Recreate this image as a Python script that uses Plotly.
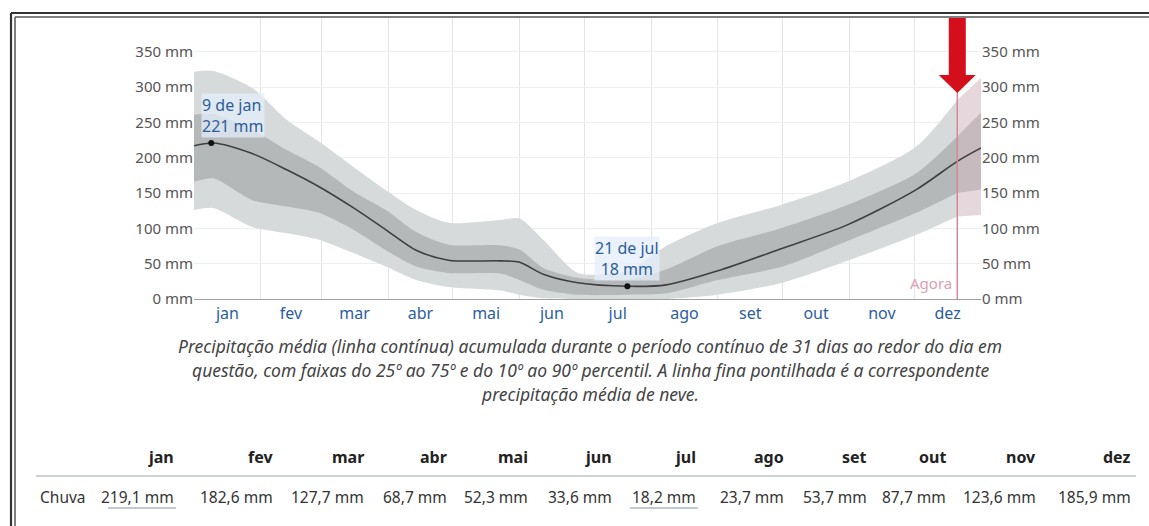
import plotly.graph_objects as go

# ---------------- data ----------------
MONTHS = ["jan", "fev", "mar", "abr", "mai", "jun", "jul", "ago", "set", "out", "nov", "dez"]
MONTH_DAYS = [31, 28, 31, 30, 31, 30, 31, 31, 30, 31, 30, 31]

# day of year (0 = 1 jan) at which values were read
DAYS = [0, 9, 27, 43, 58, 74, 89, 103, 118, 142, 151, 162, 178, 201, 219, 243, 273, 303, 335, 354, 365]
MEAN = [217, 221, 206, 183, 159, 129, 98, 69, 55, 54, 52, 35, 23, 18, 20, 40, 72, 105, 155, 195, 214]
P90 = [322, 323, 299, 254, 223, 187, 154, 126, 108, 112, 114, 84, 37, 40, 75, 108, 134, 166, 216, 282, 313]
P75 = [261, 262, 240, 211, 187, 152, 126, 95, 77, 76, 70, 44, 30, 27, 42, 75, 101, 133, 178, 230, 264]
P25 = [166, 171, 140, 131, 122, 98, 69, 46, 37, 36, 27, 13, 6, 6, 8, 27, 46, 82, 122, 150, 155]
P10 = [126, 129, 102, 93, 84, 65, 46, 27, 17, 12, 6, 1, 0, 0, 0, 6, 23, 54, 91, 117, 119]

MONTHLY_RAIN = ["219,1 mm", "182,6 mm", "127,7 mm", "68,7 mm", "52,3 mm", "33,6 mm",
                "18,2 mm", "23,7 mm", "53,7 mm", "87,7 mm", "123,6 mm", "185,9 mm"]

PEAK_DAY, PEAK_VAL, PEAK_LABEL = 8, 221, "9 de jan"
LOW_DAY, LOW_VAL, LOW_LABEL = 201, 18, "21 de jul"
AGORA_DAY = 354
Y_TICKS = [0, 50, 100, 150, 200, 250, 300, 350]
Y_TICKTEXT = [f"{v} mm" for v in Y_TICKS]

# ---------------- layout constants ----------------
W, H = 1149, 526
L, R, T, B = 194, 981, 18, 299
PW, PH = R - L, B - T
Y_TOP = 398

month_starts = [sum(MONTH_DAYS[:i]) for i in range(12)]
month_mids = [s + d / 2 for s, d in zip(month_starts, MONTH_DAYS)]

LIGHT = "#d7dadb"
DARK = "#b4b8b9"
LIGHT_T = "#e6d7dd"
DARK_T = "#c7babf"
BLUE = "#2c5e9e"

fig = go.Figure()

split = DAYS.index(AGORA_DAY)


def band(xs, lo, hi, color):
    fig.add_trace(go.Scatter(x=xs, y=lo, mode="lines", line=dict(width=0, shape="spline", smoothing=0.7),
                             hoverinfo="skip", showlegend=False))
    fig.add_trace(go.Scatter(x=xs, y=hi, mode="lines", fill="tonexty", fillcolor=color,
                             line=dict(width=0, shape="spline", smoothing=0.7),
                             hoverinfo="skip", showlegend=False))


a = slice(0, split + 1)
b = slice(split, len(DAYS))
band(DAYS[a], P10[a], P90[a], LIGHT)
band(DAYS[b], P10[b], P90[b], LIGHT_T)
band(DAYS[a], P25[a], P75[a], DARK)
band(DAYS[b], P25[b], P75[b], DARK_T)

fig.add_trace(go.Scatter(x=DAYS, y=MEAN, mode="lines",
                         line=dict(color="#3d3f40", width=1.6, shape="spline", smoothing=0.8),
                         showlegend=False))
fig.add_trace(go.Scatter(x=[PEAK_DAY, LOW_DAY], y=[PEAK_VAL, LOW_VAL], mode="markers",
                         marker=dict(color="#111", size=6), showlegend=False))
# invisible trace for right axis
fig.add_trace(go.Scatter(x=[0], y=[0], yaxis="y2", mode="markers", marker=dict(opacity=0),
                         showlegend=False, hoverinfo="skip"))

FONT = "Noto Sans"

fig.update_layout(
    width=W, height=H,
    margin=dict(l=L, r=W - R, t=T, b=H - B),
    paper_bgcolor="white", plot_bgcolor="white",
    font=dict(family=FONT, color="#555"),
    xaxis=dict(range=[0, 365], tickmode="array", tickvals=month_mids, ticktext=MONTHS, showgrid=False,
               tickfont=dict(size=16, color=BLUE), ticks="", zeroline=False,
               showline=True, linecolor="#a0a0a0", linewidth=1,
               minor=dict(tickvals=month_starts, showgrid=True, gridcolor="#e2e4e6", gridwidth=1, ticks="")),
    yaxis=dict(range=[0, Y_TOP], tickmode="array", tickvals=Y_TICKS, ticktext=Y_TICKTEXT, showgrid=True,
               gridcolor="#eeeeee", zeroline=False, tickfont=dict(size=15, color="#555"), ticks=""),
    yaxis2=dict(range=[0, Y_TOP], tickmode="array", tickvals=Y_TICKS, ticktext=Y_TICKTEXT, overlaying="y",
                side="right", showgrid=False, zeroline=False, tickfont=dict(size=15, color="#555"), ticks=""),
)

shapes = []
annotations = []


def px(xp, yp):
    return (xp - L) / PW, (B - yp) / PH


# Agora line
shapes.append(dict(type="line", xref="x", yref="y", x0=AGORA_DAY, x1=AGORA_DAY, y0=0, y1=293,
                   line=dict(color="#d58699", width=1.5)))
# red arrow (pixel sized around Agora day)
shapes.append(dict(type="path", xref="x", yref="y", xsizemode="pixel", ysizemode="pixel",
                   xanchor=AGORA_DAY, yanchor=Y_TOP,
                   path="M -8.5,0 L 8.5,0 L 8.5,-57 L 18.5,-57 L 0,-75 L -18.5,-57 L -8.5,-57 Z",
                   fillcolor="#d40f1b", line=dict(width=0)))

annotations.append(dict(x=AGORA_DAY, y=0, xref="x", yref="y", text="Agora", showarrow=False,
                        xanchor="right", yanchor="bottom", xshift=-3, yshift=4,
                        font=dict(size=15, color="#dca0b2", family=FONT)))

annotations.append(dict(x=PEAK_DAY, y=PEAK_VAL, xref="x", yref="y",
                        text=f"{PEAK_LABEL}<br>{PEAK_VAL} mm", showarrow=False, align="left",
                        xanchor="left", yanchor="bottom", xshift=-10, yshift=5,
                        bgcolor="rgba(228,238,250,0.75)", borderpad=0,
                        font=dict(size=16, color=BLUE, family=FONT)))
annotations.append(dict(x=LOW_DAY, y=LOW_VAL, xref="x", yref="y",
                        text=f"{LOW_LABEL}<br>{LOW_VAL} mm", showarrow=False, align="center",
                        xanchor="center", yanchor="bottom", yshift=5,
                        bgcolor="rgba(228,238,250,0.75)", borderpad=0,
                        font=dict(size=16, color=BLUE, family=FONT)))

# caption
caption = [
    "Precipitação média (linha contínua) acumulada durante o período contínuo de 31 dias ao redor do dia em",
    "questão, com faixas do 25º ao 75º e do 10º ao 90º percentil. A linha fina pontilhada é a correspondente",
    "precipitação média de neve.",
]
for i, line in enumerate(caption):
    x, y = px(590, 346 + 24 * i)
    annotations.append(dict(x=x, y=y, xref="paper", yref="paper", text=f"<i>{line}</i>",
                            showarrow=False, xanchor="center", yanchor="middle",
                            font=dict(size=17.5, color="#444", family=FONT)))

# table
COL_RIGHT = [176, 275, 366, 449, 530, 614, 698, 786, 869, 948, 1038, 1133]
for m, v, xr in zip(MONTHS, MONTHLY_RAIN, COL_RIGHT):
    x, y = px(xr, 457)
    annotations.append(dict(x=x, y=y, xref="paper", yref="paper", text=f"<b>{m}</b>",
                            showarrow=False, xanchor="right", yanchor="middle",
                            font=dict(size=16, color="#222", family=FONT)))
    x, y = px(xr, 497)
    annotations.append(dict(x=x, y=y, xref="paper", yref="paper", text=v,
                            showarrow=False, xanchor="right", yanchor="middle",
                            font=dict(size=15.5, color="#333", family=FONT)))
x, y = px(38, 497)
annotations.append(dict(x=x, y=y, xref="paper", yref="paper", text="Chuva", showarrow=False,
                        xanchor="left", yanchor="middle", font=dict(size=15.5, color="#333", family=FONT)))

# separator line
x0, y0 = px(36, 476)
x1, _ = px(1136, 476)
shapes.append(dict(type="line", xref="paper", yref="paper", x0=x0, x1=x1, y0=y0, y1=y0,
                   line=dict(color="#cfd2d4", width=2)))
# underline max/min values
for idx in (0, 6):
    xr = COL_RIGHT[idx]
    ux0, uy = px(xr - 68, 508)
    ux1, _ = px(xr, 508)
    shapes.append(dict(type="line", xref="paper", yref="paper", x0=ux0, x1=ux1, y0=uy, y1=uy,
                       line=dict(color="#8592ad", width=1)))

# scan frame (double line top and left)
for off, wdt, col in ((11, 2.2, "#333"), (15, 1.5, "#555")):
    fx0, fy = px(off, off + 2)
    fx1, _ = px(W, off + 2)
    shapes.append(dict(type="line", xref="paper", yref="paper", x0=fx0, x1=fx1, y0=fy, y1=fy,
                       line=dict(color=col, width=wdt)))
    vx, vy0 = px(off, off + 2)
    _, vy1 = px(off, H)
    shapes.append(dict(type="line", xref="paper", yref="paper", x0=vx, x1=vx, y0=vy0, y1=vy1,
                       line=dict(color=col, width=wdt)))

fig.update_layout(shapes=shapes, annotations=annotations)
fig.write_html("out.html", config={"displayModeBar": False},
               post_script="document.body.style.margin='0px';document.body.style.overflow='hidden';")
